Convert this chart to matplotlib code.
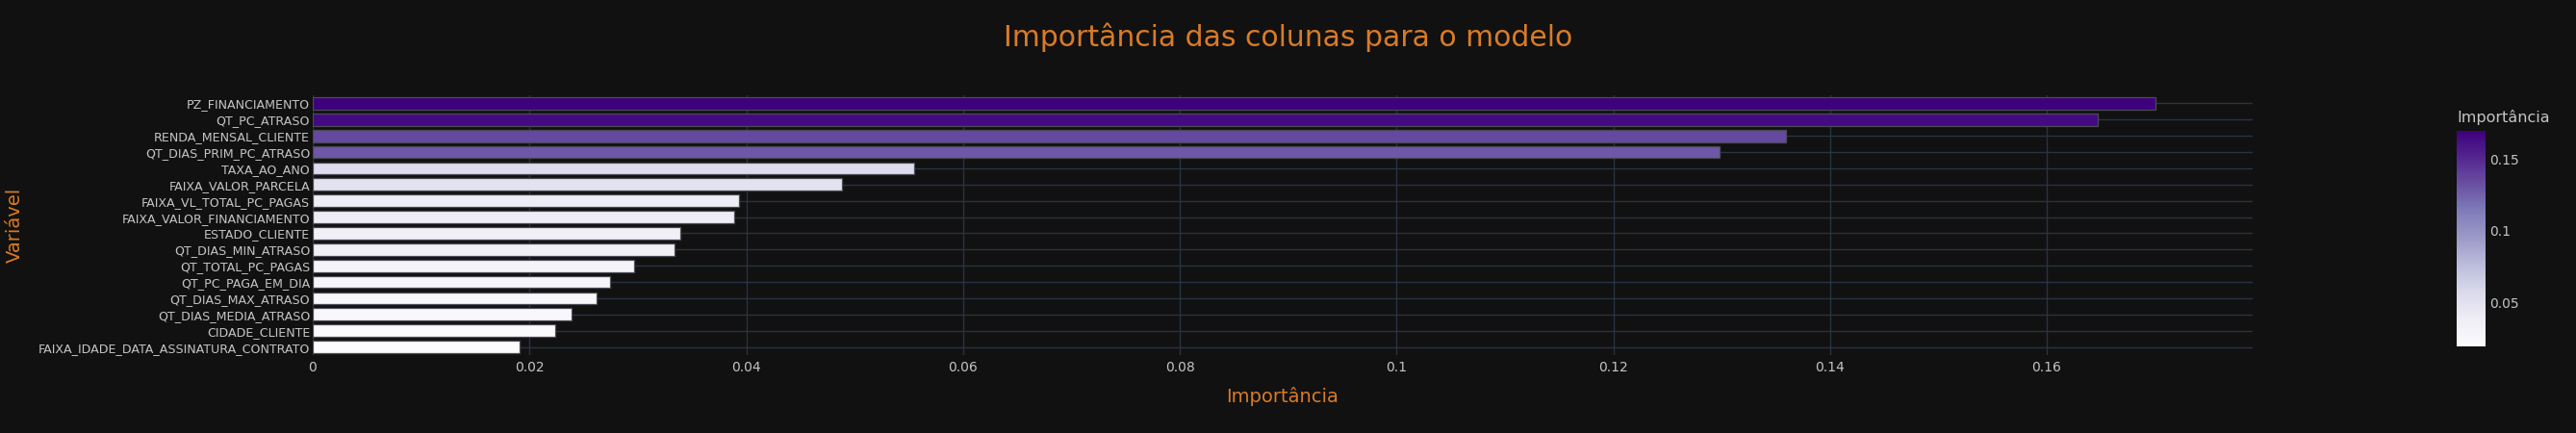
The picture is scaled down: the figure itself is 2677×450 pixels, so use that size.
import numpy as np
import matplotlib
matplotlib.use('Agg')
import matplotlib.pyplot as plt
from matplotlib.colors import LinearSegmentedColormap, Normalize

# data
variaveis = ['FAIXA_IDADE_DATA_ASSINATURA_CONTRATO', 'CIDADE_CLIENTE', 'QT_DIAS_MEDIA_ATRASO',
             'QT_DIAS_MAX_ATRASO', 'QT_PC_PAGA_EM_DIA', 'QT_TOTAL_PC_PAGAS', 'QT_DIAS_MIN_ATRASO',
             'ESTADO_CLIENTE', 'FAIXA_VALOR_FINANCIAMENTO', 'FAIXA_VL_TOTAL_PC_PAGAS',
             'FAIXA_VALOR_PARCELA', 'TAXA_AO_ANO', 'QT_DIAS_PRIM_PC_ATRASO',
             'RENDA_MENSAL_CLIENTE', 'QT_PC_ATRASO', 'PZ_FINANCIAMENTO']
importancia = [0.0191, 0.0224, 0.0239, 0.0262, 0.0274, 0.0297, 0.0334,
               0.0339, 0.0389, 0.0393, 0.0488, 0.0555, 0.1298,
               0.1359, 0.1647, 0.1700]
x_ticks = [0, 0.02, 0.04, 0.06, 0.08, 0.1, 0.12, 0.14, 0.16]
x_ticklabels = ['0', '0.02', '0.04', '0.06', '0.08', '0.1', '0.12', '0.14', '0.16']
cb_ticks = [0.05, 0.1, 0.15]
cb_ticklabels = ['0.05', '0.1', '0.15']

# plotly "Purples"
purples = ['#fcfbfd', '#efedf5', '#dadaeb', '#bcbddc', '#9e9ac8',
           '#807dba', '#6a51a3', '#54278f', '#3f007d']
cmap = LinearSegmentedColormap.from_list('purples', purples)
norm = Normalize(vmin=min(importancia), vmax=max(importancia))

bg = '#111111'
grid = '#283442'
orange = '#d97b27'
tickc = '#c4c4c4'

plt.rcParams['font.family'] = ['DejaVu Sans']
fig = plt.figure(figsize=(26.77, 4.5), dpi=100, facecolor=bg)
ax = fig.add_axes([0.1214, 0.18, 0.7531, 0.60], facecolor=bg)

y = np.arange(len(variaveis))
ax.barh(y, importancia, height=0.76, color=cmap(norm(importancia)),
        edgecolor='#4a4a55', linewidth=0.9, zorder=3)

ax.set_xlim(0, 0.179)
ax.set_ylim(-0.5, len(variaveis) - 0.5)
ax.set_yticks(y)
ax.set_yticklabels(variaveis, fontsize=9.1, color=tickc)
ax.set_xticks(x_ticks)
ax.set_xticklabels(x_ticklabels, fontsize=10, color=tickc)
ax.tick_params(axis='both', length=0, pad=2)
ax.tick_params(axis='x', pad=4)
ax.grid(True, color=grid, linewidth=1, zorder=0)
for s in ax.spines.values():
    s.set_visible(False)
ax.axvline(0, color=grid, linewidth=1.5, zorder=1)

ax.set_xlabel('Importância', fontsize=14, color=orange, labelpad=9.5)
fig.text(0.002, 0.48, 'Variável', rotation=90, fontsize=14, color=orange, va='center', ha='left')
fig.text(0.5, 0.915, 'Importância das colunas para o modelo', fontsize=21.5, color=orange,
         ha='center', va='center')

# colorbar
cax = fig.add_axes([0.9537, 0.20, 0.0112, 0.4978])
sm = matplotlib.cm.ScalarMappable(norm=norm, cmap=cmap)
cb = fig.colorbar(sm, cax=cax)
cb.outline.set_visible(False)
cb.set_ticks(cb_ticks)
cb.set_ticklabels(cb_ticklabels)
cax.tick_params(length=0, labelsize=10, labelcolor=tickc, pad=3)
fig.text(0.9537, 0.73, 'Importância', fontsize=11.5, color=tickc, ha='left', va='center')

fig.savefig('out.png', dpi=100, facecolor=bg)
